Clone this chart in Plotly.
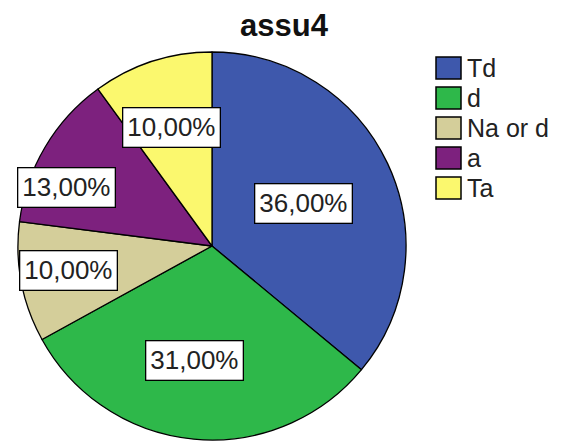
import plotly.graph_objects as go
import math

# ---- data ----
categories = ["Td", "d", "Na or d", "a", "Ta"]
percentages = [36.0, 31.0, 10.0, 13.0, 10.0]
label_texts = ["36,00%", "31,00%", "10,00%", "13,00%", "10,00%"]
title_text = "assu4"

# ---- style ----
colors = ["#3E58AC", "#2EB84A", "#D4CE9A", "#7D217E", "#FBF86E"]
label_radius = [0.52, 0.595, 0.75, 0.81, 0.645]   # fraction of pie radius
label_angle_nudge = [0, 3.5, 1, -8.6, -1]           # degrees
OFF = 8                      # default page body margin
W, H = 565 - OFF, 444 - OFF
CX, CY, R = 212, 246, 194    # pie centre / radius in window pixels
FONT = "Arial, Liberation Sans, sans-serif"


def px(x):
    return (x - OFF) / W


def py(y):
    return (H - (y - OFF)) / H


fig = go.Figure()
fig.add_trace(go.Pie(
    labels=categories,
    values=percentages,
    sort=False,
    direction="clockwise",
    rotation=0,
    marker=dict(colors=colors, line=dict(color="black", width=1.3)),
    textinfo="none",
    hoverinfo="label+percent",
    domain=dict(x=[px(CX - R), px(CX + R)], y=[py(CY + R), py(CY - R)]),
    showlegend=False,
))

annotations = []
total = sum(percentages)
cum = 0.0
for i, v in enumerate(percentages):
    mid = (cum + v / 2) / total * 360 + label_angle_nudge[i]
    cum += v
    r = label_radius[i] * R
    x = CX + r * math.sin(math.radians(mid))
    y = CY - r * math.cos(math.radians(mid))
    annotations.append(dict(
        x=px(x), y=py(y), xref="paper", yref="paper",
        text=label_texts[i], showarrow=False,
        font=dict(family=FONT, size=26, color="#222"),
        bgcolor="white", bordercolor="black", borderwidth=1.3, borderpad=4,
        xanchor="center", yanchor="middle",
    ))

# custom legend
shapes = []
for i, name in enumerate(categories):
    top = 57 + 30 * i
    shapes.append(dict(
        type="rect", xref="paper", yref="paper",
        x0=px(436), x1=px(461), y0=py(top + 22), y1=py(top),
        fillcolor=colors[i], line=dict(color="black", width=1.5),
    ))
    annotations.append(dict(
        x=px(465), y=py(top + 11), xref="paper", yref="paper",
        text=name, showarrow=False, xanchor="left", yanchor="middle",
        font=dict(family=FONT, size=25, color="#222"),
    ))

# title
annotations.append(dict(
    x=px(284), y=py(26), xref="paper", yref="paper",
    text="<b>" + title_text + "</b>", showarrow=False,
    xanchor="center", yanchor="middle", borderpad=0,
    font=dict(family=FONT, size=31, color="#111"),
))

fig.update_layout(
    width=W, height=H,
    margin=dict(l=0, r=0, t=0, b=0),
    paper_bgcolor="white", plot_bgcolor="white",
    annotations=annotations, shapes=shapes,
    showlegend=False,
)

fig.write_html("out.html")
